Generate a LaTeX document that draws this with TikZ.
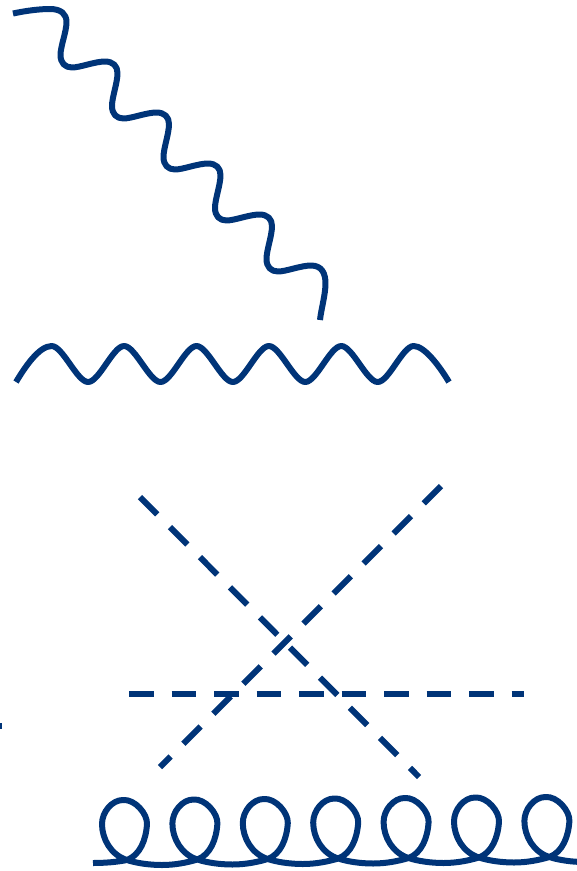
\documentclass[tikz,border=0pt]{standalone}
\definecolor{feyn}{RGB}{0,52,120}
\tikzset{
  feynline/.style={draw=feyn,line width=6pt,line cap=butt,line join=round},
  feyndash/.style={feynline,dash pattern=on 24.5pt off 18pt}
}
\begin{document}
\begin{tikzpicture}[x=1pt,y=-1pt]
\useasboundingbox (0,0) rectangle (577,871);
% photon, diagonal
\draw[feynline] (13,13.5) .. controls (27,10.5) and (40,9) .. (50,9)
  .. controls (61,9) and (66.5,14) .. (66.5,22)
  .. controls (66.5,32) and (60.5,46) .. (60.5,55)
  \foreach \k in {1,...,4} {
  .. controls +(0,8) and +(-7,0) .. ++(11.5,12.5)
  .. controls +(8,0) and +(-10,0) .. ++(33,-6)
  .. controls +(8,0) and +(0,-7) .. ++(12.5,11.5)
  .. controls +(0,10) and +(0,-9) .. ++(-5.5,33)
  }
  .. controls +(0,8) and +(-7,0) .. ++(11.5,12.5)
  .. controls +(8,0) and +(-10,0) .. ++(33,-6)
  .. controls +(11,0) and +(0,-10) .. ++(14.5,18)
  .. controls +(0,11) and +(1,-10) .. (320,320);
% photon, horizontal
\draw[feynline] (16,382) .. controls (25,367) and (39,346) .. (51.7,346)
  \foreach \k in {1,...,5} {
  .. controls +(11,0) and +(-11,0) .. ++(36.4,36)
  .. controls +(11,0) and +(-11,0) .. ++(36,-36)
  }
  .. controls +(11,0) and +(-9,-15) .. (449,382);
% scalar lines
\draw[feyndash] (140,497) -- (419,777);
\draw[feyndash] (441,486) -- (160,767);
\draw[feyndash] (129,693.5) -- (524,693.5);
\draw[feynline] (0,725.5) -- (2,725.5);
% gluon
\draw[feynline] (93,863) .. controls (105,863) and (117,862) .. (127,860)
  \foreach \k in {1,...,7} {
  .. controls +(13,-5) and +(-1,16) .. ++(20,-36)
  .. controls +(0.5,-10) and +(12,-1) .. ++(-24,-24)
  .. controls +(-11,0) and +(0,-12) .. ++(-21,24)
  .. controls +(0,15) and +(-16,-5) .. ++(25,36)
  .. controls +(9,3) and +(-13,0) .. ++(35,5)
  .. controls +(13,0) and +(-10.4,3.1) .. ++(35.4,-5.5)
  };
\end{tikzpicture}
\end{document}
